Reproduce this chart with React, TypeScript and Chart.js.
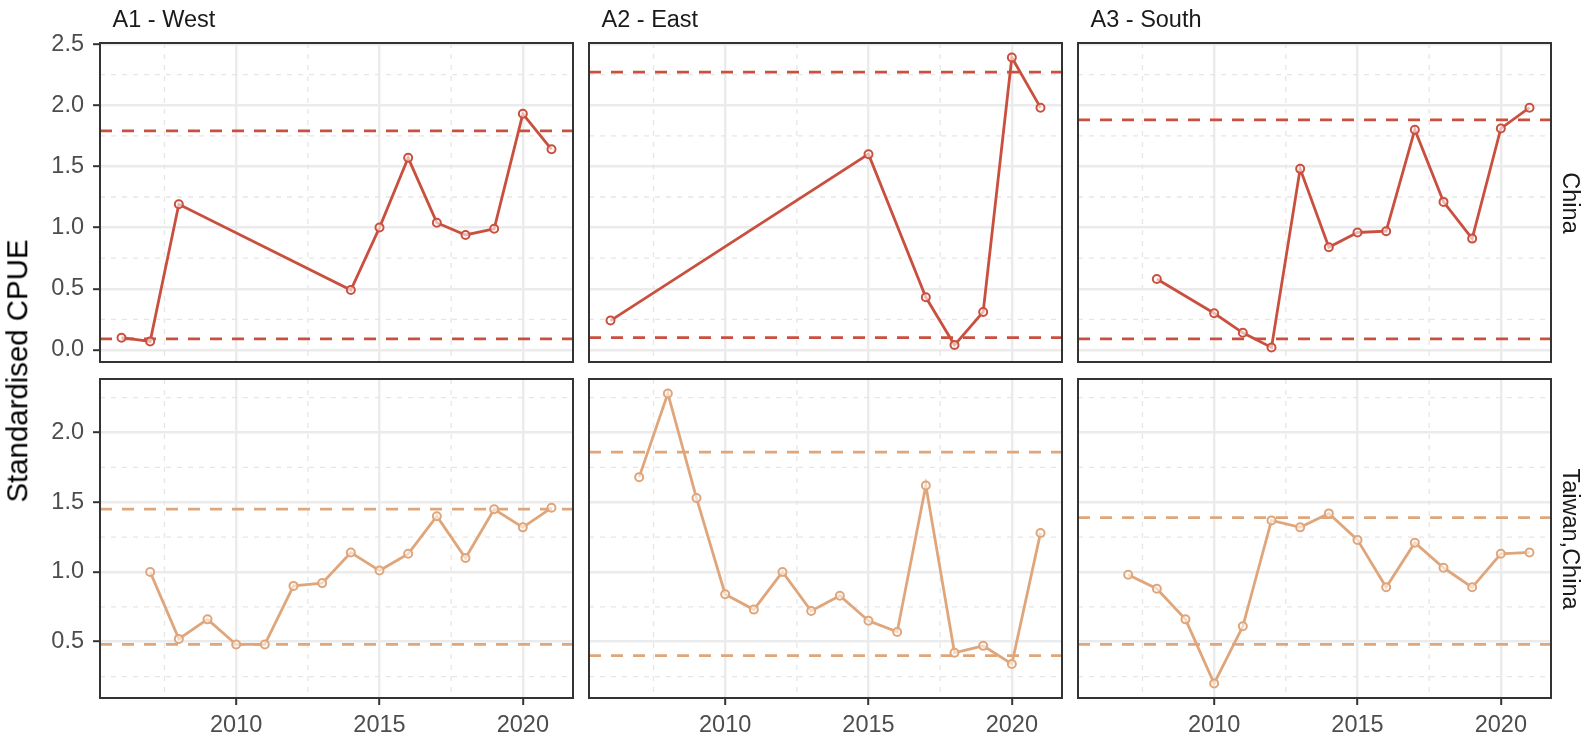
import React, { useEffect, useRef } from 'react';
import { Chart, registerables } from 'chart.js';

Chart.register(...registerables);

// ---------------- data ----------------
const YEARS_A1_CN = [2006, 2007, 2008, 2014, 2015, 2016, 2017, 2018, 2019, 2020, 2021];
const CPUE_A1_CN = [0.10, 0.07, 1.19, 0.49, 1.00, 1.57, 1.04, 0.94, 0.99, 1.93, 1.64];
const YEARS_A2_CN = [2006, 2015, 2017, 2018, 2019, 2020, 2021];
const CPUE_A2_CN = [0.24, 1.60, 0.43, 0.04, 0.31, 2.39, 1.98];
const YEARS_A3_CN = [2008, 2010, 2011, 2012, 2013, 2014, 2015, 2016, 2017, 2018, 2019, 2020, 2021];
const CPUE_A3_CN = [0.58, 0.30, 0.14, 0.02, 1.48, 0.84, 0.96, 0.97, 1.80, 1.21, 0.91, 1.81, 1.98];

const YEARS_TW = [2007, 2008, 2009, 2010, 2011, 2012, 2013, 2014, 2015, 2016, 2017, 2018, 2019, 2020, 2021];
const CPUE_A1_TW = [1.00, 0.52, 0.66, 0.48, 0.48, 0.90, 0.92, 1.14, 1.01, 1.13, 1.40, 1.10, 1.45, 1.32, 1.46];
const CPUE_A2_TW = [1.68, 2.28, 1.53, 0.84, 0.73, 1.00, 0.72, 0.83, 0.65, 0.57, 1.62, 0.42, 0.47, 0.34, 1.28];
const CPUE_A3_TW = [0.98, 0.88, 0.66, 0.20, 0.61, 1.37, 1.32, 1.42, 1.23, 0.89, 1.21, 1.03, 0.89, 1.13, 1.14];

// dashed reference lines [upper, lower]
const REF_A1_CN = [1.79, 0.09];
const REF_A2_CN = [2.27, 0.10];
const REF_A3_CN = [1.88, 0.09];
const REF_A1_TW = [1.45, 0.48];
const REF_A2_TW = [1.86, 0.40];
const REF_A3_TW = [1.39, 0.48];

const AREAS = ['A1 - West', 'A2 - East', 'A3 - South'];
const FLEETS = ['China', 'Taiwan,China'];
const Y_TITLE = 'Standardised CPUE';

const X_TICKS = [2010, 2015, 2020];
const X_MINOR = [2007.5, 2012.5, 2017.5];
const Y_TICKS_TOP = [0, 0.5, 1.0, 1.5, 2.0, 2.5];
const Y_MINOR_TOP = [0.25, 0.75, 1.25, 1.75, 2.25];
const Y_TICKS_BOTTOM = [0.5, 1.0, 1.5, 2.0];
const Y_MINOR_BOTTOM = [0.25, 0.75, 1.25, 1.75, 2.25];

// ---------------- style ----------------
const RED = '#C9503F';
const TAN = '#E0A67B';
const FONT = "'Liberation Sans', Arial, Helvetica, sans-serif";
const TICK_FONT_SIZE = 23.5;
const TITLE_FONT_SIZE = 29.4;

const PX = [100, 589, 1078];
const PW = 473;
const PY = [43, 379];
const PH = 319;
const L = 90;
const R = 6;
const T = 12;
const B = 38;

const PANELS = [
  { r: 0, c: 0, years: YEARS_A1_CN, vals: CPUE_A1_CN, refs: REF_A1_CN, color: RED },
  { r: 0, c: 1, years: YEARS_A2_CN, vals: CPUE_A2_CN, refs: REF_A2_CN, color: RED },
  { r: 0, c: 2, years: YEARS_A3_CN, vals: CPUE_A3_CN, refs: REF_A3_CN, color: RED },
  { r: 1, c: 0, years: YEARS_TW, vals: CPUE_A1_TW, refs: REF_A1_TW, color: TAN },
  { r: 1, c: 1, years: YEARS_TW, vals: CPUE_A2_TW, refs: REF_A2_TW, color: TAN },
  { r: 1, c: 2, years: YEARS_TW, vals: CPUE_A3_TW, refs: REF_A3_TW, color: TAN },
];

const panelFrame = {
  id: 'panelFrame',
  beforeDatasetsDraw(chart: any, _args: any, opts: any) {
    const { ctx, chartArea } = chart;
    const xs = chart.scales.x;
    const ys = chart.scales.y;
    ctx.save();
    ctx.beginPath();
    ctx.rect(chartArea.left, chartArea.top, chartArea.right - chartArea.left, chartArea.bottom - chartArea.top);
    ctx.clip();
    ctx.strokeStyle = '#E6E6E6';
    ctx.lineWidth = 1.3;
    ctx.setLineDash([5, 6]);
    (opts.xMinor || []).forEach((v: number) => {
      const p = xs.getPixelForValue(v);
      ctx.beginPath();
      ctx.moveTo(p, chartArea.top);
      ctx.lineTo(p, chartArea.bottom);
      ctx.stroke();
    });
    (opts.yMinor || []).forEach((v: number) => {
      const p = ys.getPixelForValue(v);
      ctx.beginPath();
      ctx.moveTo(chartArea.left, p);
      ctx.lineTo(chartArea.right, p);
      ctx.stroke();
    });
    ctx.restore();
  },
  afterDraw(chart: any) {
    const { ctx, chartArea } = chart;
    ctx.save();
    ctx.strokeStyle = '#333333';
    ctx.lineWidth = 2;
    ctx.strokeRect(chartArea.left, chartArea.top, chartArea.right - chartArea.left, chartArea.bottom - chartArea.top);
    ctx.restore();
  },
};

export default function App() {
  const refs = useRef<(HTMLCanvasElement | null)[]>([]);

  useEffect(() => {
    const allYears = PANELS.flatMap((p) => p.years);
    const xMinData = Math.min(...allYears);
    const xMaxData = Math.max(...allYears);
    const xPad = 0.05 * (xMaxData - xMinData);

    const charts = PANELS.map((p, i) => {
      const rowVals = PANELS.filter((q) => q.r === p.r).flatMap((q) => [...q.vals, ...q.refs]);
      const yMinData = Math.min(...rowVals);
      const yMaxData = Math.max(...rowVals);
      const yPad = 0.05 * (yMaxData - yMinData);
      const xMin = xMinData - xPad;
      const xMax = xMaxData + xPad;
      const showY = p.c === 0;
      const showX = p.r === 1;
      const yTicks = p.r === 0 ? Y_TICKS_TOP : Y_TICKS_BOTTOM;
      const yMinor = p.r === 0 ? Y_MINOR_TOP : Y_MINOR_BOTTOM;

      const datasets: any[] = [
        {
          data: p.years.map((y, k) => ({ x: y, y: p.vals[k] })),
          borderColor: p.color,
          borderWidth: 2.8,
          pointRadius: 4,
          pointBorderWidth: 2,
          pointBorderColor: p.color,
          pointBackgroundColor: 'rgba(255,255,255,0.6)',
          tension: 0,
        },
        ...p.refs.map((v) => ({
          data: [
            { x: xMin, y: v },
            { x: xMax, y: v },
          ],
          borderColor: p.color,
          borderWidth: 2.7,
          borderDash: [12, 10],
          pointRadius: 0,
          tension: 0,
        })),
      ];

      return new Chart(refs.current[i] as HTMLCanvasElement, {
        type: 'line',
        data: { datasets },
        plugins: [panelFrame],
        options: {
          animation: false,
          responsive: false,
          maintainAspectRatio: false,
          events: [],
          layout: { padding: { left: 0, right: R, top: T, bottom: 0 } },
          plugins: {
            legend: { display: false },
            tooltip: { enabled: false },
            title: { display: false },
            panelFrame: { xMinor: X_MINOR, yMinor },
          } as any,
          scales: {
            x: {
              type: 'linear',
              min: xMin,
              max: xMax,
              afterBuildTicks: (s: any) => {
                s.ticks = X_TICKS.map((v) => ({ value: v }));
              },
              afterFit: (s: any) => {
                s.height = B;
                s.paddingLeft = 0;
                s.paddingRight = 0;
              },
              border: { display: false },
              grid: {
                color: '#EBEBEB',
                lineWidth: 2.4,
                drawTicks: showX,
                tickLength: 7,
                tickColor: '#333333',
                tickWidth: 2,
              },
              ticks: {
                display: showX,
                color: '#4D4D4D',
                font: { family: FONT, size: TICK_FONT_SIZE },
                padding: 6,
                maxRotation: 0,
                autoSkip: false,
                callback: (v: any) => String(v),
              },
            },
            y: {
              type: 'linear',
              min: yMinData - yPad,
              max: yMaxData + yPad,
              afterBuildTicks: (s: any) => {
                s.ticks = yTicks.map((v) => ({ value: v }));
              },
              afterFit: (s: any) => {
                s.width = L;
                s.paddingTop = 0;
                s.paddingBottom = 0;
              },
              border: { display: false },
              grid: {
                color: '#EBEBEB',
                lineWidth: 2.4,
                drawTicks: showY,
                tickLength: 7,
                tickColor: '#333333',
                tickWidth: 2,
              },
              ticks: {
                display: showY,
                color: '#4D4D4D',
                font: { family: FONT, size: TICK_FONT_SIZE },
                padding: 9,
                autoSkip: false,
                callback: (v: any) => Number(v).toFixed(1),
              },
            },
          },
        } as any,
      });
    });
    return () => charts.forEach((c) => c.destroy());
  }, []);

  const labelBase: React.CSSProperties = {
    position: 'absolute',
    fontFamily: FONT,
    lineHeight: 1,
    whiteSpace: 'nowrap',
  };

  return (
    <div
      style={{
        position: 'absolute',
        left: 0,
        top: 0,
        width: 1585,
        height: 737,
        overflow: 'hidden',
        background: '#ffffff',
      }}
    >
      {PANELS.map((p, i) => (
        <canvas
          key={i}
          ref={(el) => {
            refs.current[i] = el;
          }}
          width={L + PW + R}
          height={T + PH + B}
          style={{
            position: 'absolute',
            left: PX[p.c] - L,
            top: PY[p.r] - T,
            width: L + PW + R,
            height: T + PH + B,
          }}
        />
      ))}
      {AREAS.map((a, c) => (
        <div
          key={a}
          style={{ ...labelBase, left: PX[c] + 12.5, top: 8.3, fontSize: TICK_FONT_SIZE, color: '#1A1A1A' }}
        >
          {a}
        </div>
      ))}
      {FLEETS.map((f, r) => (
        <div
          key={f}
          style={{
            ...labelBase,
            left: 1570,
            top: PY[r] + PH / 2,
            fontSize: TICK_FONT_SIZE,
            color: '#1A1A1A',
            transform: 'translate(-50%, -50%) rotate(90deg)',
          }}
        >
          {f}
        </div>
      ))}
      <div
        style={{
          ...labelBase,
          left: 17,
          top: (PY[0] + PY[1] + PH) / 2,
          fontSize: TITLE_FONT_SIZE,
          color: '#000000',
          transform: 'translate(-50%, -50%) rotate(-90deg)',
        }}
      >
        {Y_TITLE}
      </div>
    </div>
  );
}
